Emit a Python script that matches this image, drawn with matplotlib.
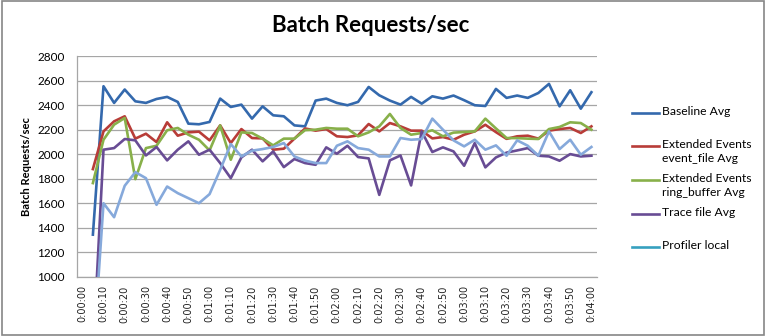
import numpy as np
import matplotlib
matplotlib.use("Agg")
import matplotlib.pyplot as plt
from matplotlib.lines import Line2D
from matplotlib.patches import Rectangle

plt.rcParams["font.family"] = ["Lato", "DejaVu Sans"]

# 5-second samples, 0:00:00 .. 0:04:00 (first slot has no reading)
seconds = list(range(0, 245, 5))
time_labels = [f"{s // 3600}:{(s % 3600) // 60:02d}:{s % 60:02d}" for s in seconds]

baseline = [np.nan, 1345, 2554, 2418, 2527, 2431, 2418, 2450, 2467, 2426,
            2249, 2244, 2263, 2453, 2385, 2404, 2290, 2390, 2317, 2309,
            2235, 2227, 2437, 2453, 2418, 2399, 2426, 2548, 2480, 2437,
            2404, 2467, 2412, 2472, 2453, 2478, 2440, 2399, 2393, 2532,
            2459, 2478, 2459, 2499, 2573, 2390, 2521, 2371, 2505]
xe_event_file = [np.nan, 1879, 2186, 2268, 2309, 2127, 2167, 2099, 2260, 2151,
                 2178, 2184, 2113, 2235, 2091, 2205, 2132, 2129, 2037, 2045,
                 2127, 2210, 2192, 2205, 2146, 2140, 2154, 2246, 2186, 2254,
                 2227, 2192, 2192, 2129, 2140, 2118, 2159, 2186, 2240, 2180,
                 2125, 2146, 2151, 2127, 2192, 2205, 2214, 2173, 2227]
xe_ring_buffer = [np.nan, 1765, 2118, 2241, 2295, 1797, 2050, 2069, 2195, 2214,
                  2159, 2118, 2031, 2235, 1955, 2178, 2173, 2127, 2072, 2127,
                  2127, 2196, 2200, 2214, 2208, 2208, 2146, 2178, 2227, 2328,
                  2214, 2159, 2173, 2195, 2146, 2176, 2181, 2186, 2290, 2210,
                  2132, 2131, 2127, 2124, 2205, 2222, 2260, 2254, 2200]
trace_file = [np.nan, 370, 2037, 2050, 2124, 2113, 1990, 2059, 1950, 2037,
              2105, 1996, 2037, 1928, 1805, 1974, 2037, 1942, 2023, 1895,
              1961, 1928, 1914, 2056, 2004, 2069, 1977, 1966, 1669, 1950,
              1990, 1746, 2186, 2018, 2056, 2023, 1906, 2091, 1893, 1974,
              2013, 2031, 2050, 1988, 1982, 1947, 2001, 1982, 1988]
profiler_local = [np.nan, 320, 1601, 1487, 1743, 1854, 1805, 1588, 1737, 1683,
                  1642, 1601, 1675, 1873, 2083, 1982, 2029, 2042, 2059, 2091,
                  1982, 1948, 1928, 1928, 2069, 2105, 2050, 2037, 1982, 1982,
                  2132, 2118, 2124, 2290, 2200, 2113, 2064, 2118, 2037, 2072,
                  1988, 2113, 2069, 1988, 2186, 2042, 2118, 1996, 2059]

series_names = ["Baseline Avg", "Extended Events\nevent_file Avg",
                "Extended Events\nring_buffer Avg", "Trace file Avg", "Profiler local"]
line_colors = ["#3469AD", "#B83C38", "#88B04A", "#684C94", "#86A9DB"]
legend_colors = ["#3469AD", "#B83C38", "#88B04A", "#684C94", "#36A0BF"]

fig = plt.figure(figsize=(7.66, 3.36), dpi=100)
ax = fig.add_axes([0.1005, 0.1756, 0.6785, 0.6577])

x = np.arange(len(seconds))
for vals, col in zip([baseline, xe_event_file, xe_ring_buffer, trace_file, profiler_local],
                     line_colors):
    ax.plot(x, vals, color=col, lw=1.9, solid_joinstyle="round", zorder=3)

ax.set_xlim(-0.5, len(seconds) - 0.5)
ax.set_ylim(1000, 2800)
ax.set_yticks(range(1000, 2801, 200))
ax.set_xticks(x[::2])
ax.set_xticklabels(time_labels[::2], rotation=90, fontsize=7,
                   family="DejaVu Sans", color="#222222")
ax.tick_params(axis="x", length=0, pad=6)
ax.tick_params(axis="y", length=0, pad=9, labelsize=8.5)

ax.grid(axis="y", color="#A6A6A6", lw=0.9)
ax.set_axisbelow(True)
for side in ("top", "right"):
    ax.spines[side].set_visible(False)
for side in ("left", "bottom"):
    ax.spines[side].set_color("#A6A6A6")
    ax.spines[side].set_linewidth(0.9)

ax.set_ylabel("Batch Requests/sec", fontsize=8, fontweight="bold")
ax.yaxis.set_label_coords(-0.086, 0.5)

fig.text(0.484, 0.925, "Batch Requests/sec", fontsize=16, fontweight="bold",
         ha="center", va="center")

# legend drawn by hand so two-line entries keep the swatch on the first line
H = 336.0
legend_rows = [113, 146, 180, 214, 247]
for name, col, ypx in zip(series_names, legend_colors, legend_rows):
    yf = 1 - ypx / H
    fig.add_artist(Line2D([632 / 766, 659 / 766], [yf, yf], color=col, lw=1.9))
    fig.text(662 / 766, yf + 7 / H, name, fontsize=8.7, ha="left", va="top",
             linespacing=1.35)

# chart area border
fig.add_artist(Rectangle((0.002, 0.004), 0.995, 0.992, transform=fig.transFigure,
                         fill=False, edgecolor="#868686", lw=1.2))

fig.savefig("out.png", dpi=100)
